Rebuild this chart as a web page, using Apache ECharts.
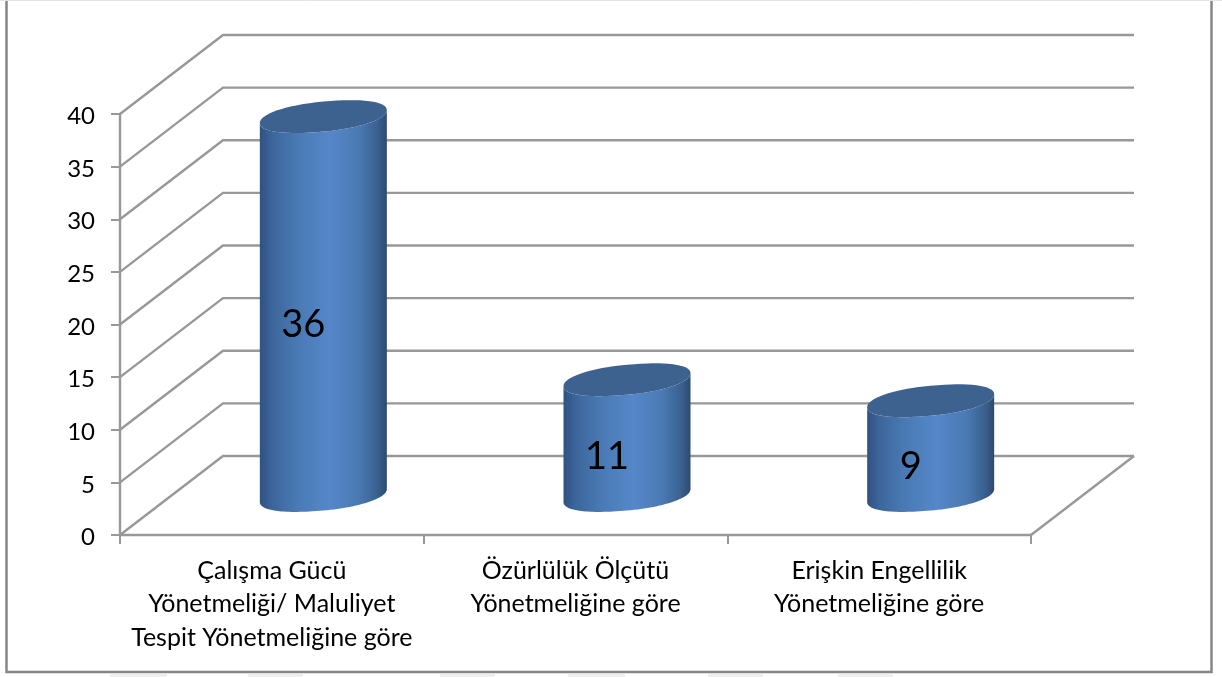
<!DOCTYPE html>
<html>
<head>
<meta charset="utf-8">
<style>
  html, body { margin: 0; padding: 0; background: #fff; }
  #chart { width: 1222px; height: 677px; }
</style>
<script src="https://cdn.jsdelivr.net/npm/echarts@6/dist/echarts.min.js"></script>
</head>
<body>
<div id="chart"></div>
<script>
var categories = [
  'Çalışma Gücü\nYönetmeliği/ Maluliyet\nTespit Yönetmeliğine göre',
  'Özürlülük Ölçütü\nYönetmeliğine göre',
  'Erişkin Engellilik\nYönetmeliğine göre'
];
var values = [36, 11, 9];
var yTicks = [0, 5, 10, 15, 20, 25, 30, 35, 40];

// derinlik: on duvardan arka duvara kayma
var depthX = 103;
var depthY = -79;
var lineColor = '#989898';

// silindir kapagi: yamuk, uclari biraz yuvarlak elips
function ellipsePoints(cx, cy, from, to) {
  var pts = [];
  var a = 63.5, b = 15, k = -6.5, e = 0.93;
  for (var i = 0; i <= 64; i++) {
    var t = from + (to - from) * i / 64;
    var c = Math.cos(t), s = Math.sin(t);
    var xc = (c < 0 ? -1 : 1) * Math.pow(Math.abs(c), e);
    var ys = (s < 0 ? -1 : 1) * Math.pow(Math.abs(s), e);
    pts.push([cx + a * xc, cy + b * ys + k * c]);
  }
  return pts;
}

function renderWall(params, api) {
  var cs = params.coordSys;
  var y = api.coord([0, api.value(0)])[1];
  var pts = [
    [cs.x, y],
    [cs.x + depthX, y + depthY],
    [cs.x + cs.width + depthX, y + depthY]
  ];
  var children = [{
    type: 'polyline',
    shape: { points: pts },
    style: { stroke: lineColor, lineWidth: 2.4, fill: null }
  }];
  // zemin sag kenari
  if (api.value(0) === 0) {
    children.push({
      type: 'line',
      shape: { x1: cs.x + cs.width, y1: y, x2: cs.x + cs.width + depthX, y2: y + depthY },
      style: { stroke: lineColor, lineWidth: 2.4 }
    });
  }
  return { type: 'group', children: children };
}

function renderBar(params, api) {
  var p = api.coord([api.value(0), api.value(1)]);
  var base = api.coord([api.value(0), 0]);
  var cx = p[0] + depthX / 2;
  var topY = p[1] + depthY / 2;
  var baseY = base[1] + depthY / 2;
  // on yuz: ust kapagin alt yarisi + tabanin alt yarisi
  var body = ellipsePoints(cx, topY, Math.PI, 0).concat(ellipsePoints(cx, baseY, 0, Math.PI));
  return {
    type: 'group',
    children: [{
      type: 'polygon',
      shape: { points: body },
      style: {
        fill: new echarts.graphic.LinearGradient(0, 0, 1, 0, [
          { offset: 0, color: '#2f5282' },
          { offset: 0.1, color: '#3c669b' },
          { offset: 0.3, color: '#4a7ab5' },
          { offset: 0.55, color: '#5587c9' },
          { offset: 0.78, color: '#4a79b3' },
          { offset: 0.92, color: '#3a6292' },
          { offset: 1, color: '#2c4a70' }
        ])
      }
    }, {
      type: 'polygon',
      shape: { points: ellipsePoints(cx, topY, 0, Math.PI * 2) },
      style: { fill: '#3d628f' }
    }, {
      type: 'text',
      x: cx - 20,
      y: (topY + baseY) / 2 + 19,
      style: {
        text: String(api.value(1)),
        font: '38px Lato',
        fill: '#000',
        align: 'center',
        verticalAlign: 'middle'
      }
    }]
  };
}

// cercevenin altindaki soluk seritler
var frameGraphics = [{
  type: 'rect',
  shape: { x: 6.5, y: -2, width: 1205, height: 674 },
  style: { fill: 'none', stroke: '#868686', lineWidth: 2.5 },
  z: 0
}, {
  type: 'line',
  shape: { x1: 0, y1: 0.5, x2: 1222, y2: 0.5 },
  style: { stroke: '#e4e4e4', lineWidth: 1 },
  z: 0
}];
[[110, 57], [248, 55], [440, 55], [568, 57], [708, 55], [838, 55]].forEach(function (b) {
  frameGraphics.push({
    type: 'rect',
    shape: { x: b[0], y: 674, width: b[1], height: 3 },
    style: { fill: '#efefef' },
    z: 0
  });
});

var myChart = echarts.init(document.getElementById('chart'), null, { renderer: 'canvas' });
myChart.setOption({
  animation: false,
  backgroundColor: '#fff',
  graphic: frameGraphics,
  grid: { left: 120, right: 191, top: 114, bottom: 142 },
  xAxis: {
    type: 'category',
    data: categories,
    axisLine: { lineStyle: { color: lineColor, width: 2.4 } },
    axisTick: { show: true, length: 9, alignWithLabel: false, lineStyle: { color: lineColor, width: 2 } },
    axisLabel: { color: '#000', fontFamily: 'Lato', fontSize: 25, lineHeight: 33.5, margin: 19, interval: 0 }
  },
  yAxis: {
    type: 'value',
    min: 0,
    max: 40,
    interval: 5,
    axisLine: { show: true, lineStyle: { color: lineColor, width: 2.4 } },
    axisTick: { show: true, length: 9, lineStyle: { color: lineColor, width: 2 } },
    axisLabel: { color: '#000', fontFamily: 'Lato', fontSize: 24, margin: 25, verticalAlign: 'top', lineHeight: 5 },
    splitLine: { show: false }
  },
  series: [{
    type: 'custom',
    coordinateSystem: 'cartesian2d',
    renderItem: renderWall,
    data: yTicks.map(function (v) { return [v]; }),
    encode: { y: 0 },
    silent: true,
    z: 1
  }, {
    type: 'custom',
    coordinateSystem: 'cartesian2d',
    renderItem: renderBar,
    data: values.map(function (v, i) { return [i, v]; }),
    encode: { x: 0, y: 1 },
    z: 3
  }]
});
</script>
</body>
</html>
